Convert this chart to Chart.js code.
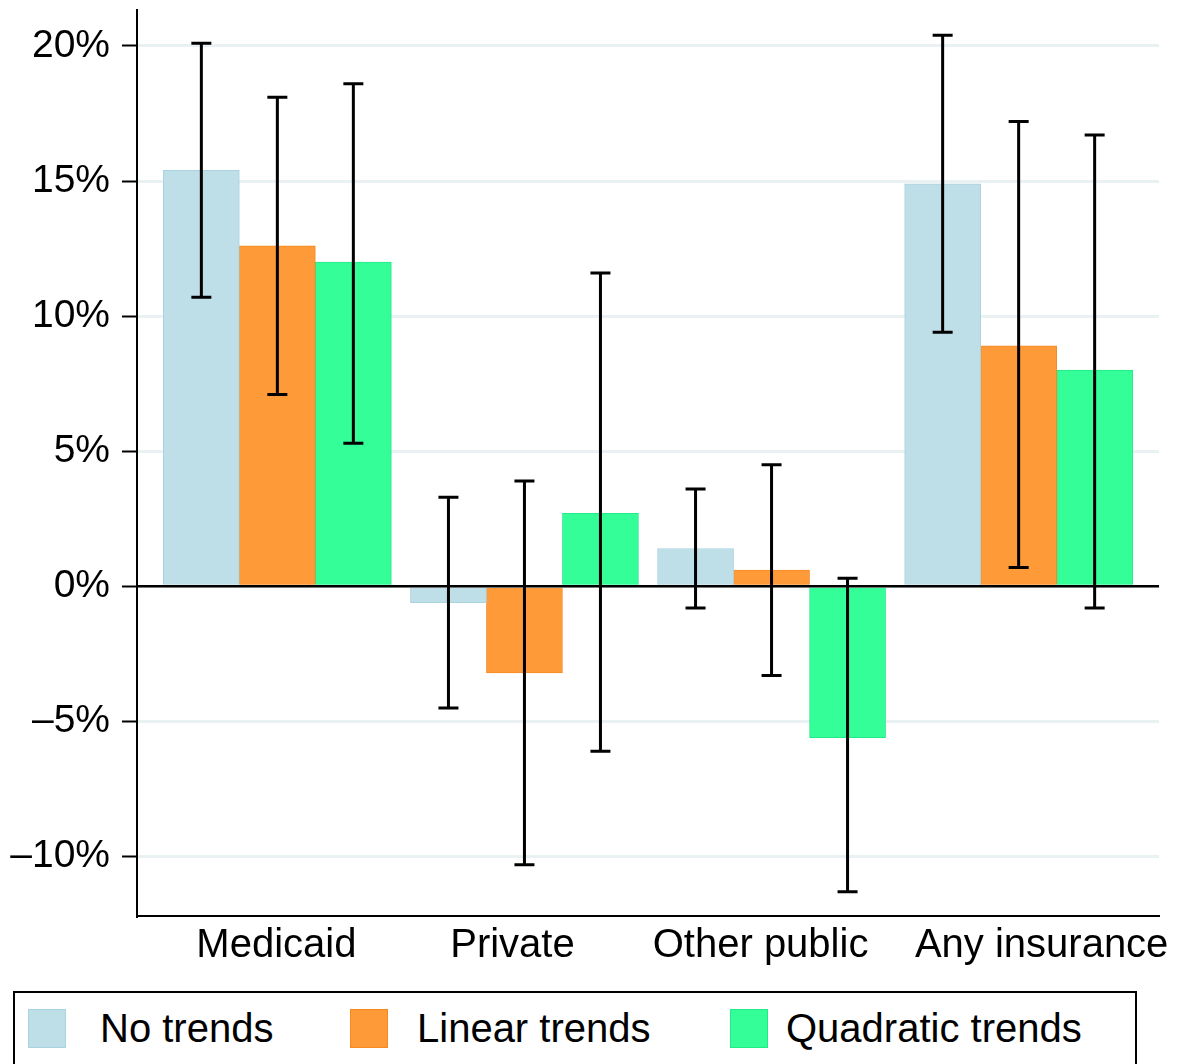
<!DOCTYPE html>
<html>
<head>
<meta charset="utf-8">
<script src="https://cdn.jsdelivr.net/npm/chart.js@4.4.1/dist/chart.umd.min.js"></script>
<style>
  body { margin: 0; background: #fff; font-family: "Liberation Sans", Arial, sans-serif; }
  #wrap { position: relative; width: 1177px; height: 1064px; overflow: hidden; }
  #chart { position: absolute; left: 0; top: 0; }
  #legend {
    position: absolute; left: 13px; top: 991px; width: 1124px; height: 90px;
    border: 2px solid #000; box-sizing: border-box;
  }
  .swatch { position: absolute; top: 16px; width: 38px; height: 39px; box-sizing: border-box; border: 1px solid; }
  .label { position: absolute; top: 12px; font-size: 40px; line-height: 46px; color: #000; white-space: nowrap; }
</style>
</head>
<body>
<div id="wrap">
  <canvas id="chart" width="1177" height="985"></canvas>
  <div id="legend"></div>
</div>
<script>
const categories = ["Medicaid", "Private", "Other public", "Any insurance"];
const seriesNames = ["No trends", "Linear trends", "Quadratic trends"];

const noTrends = [15.4, -0.6, 1.4, 14.9];
const noTrendsLow = [10.7, -4.5, -0.8, 9.4];
const noTrendsHigh = [20.1, 3.3, 3.6, 20.4];

const linearTrends = [12.6, -3.2, 0.6, 8.9];
const linearLow = [7.1, -10.3, -3.3, 0.7];
const linearHigh = [18.1, 3.9, 4.5, 17.2];

const quadTrends = [12.0, 2.7, -5.6, 8.0];
const quadLow = [5.3, -6.1, -11.3, -0.8];
const quadHigh = [18.6, 11.6, 0.3, 16.7];

const yTicks = [-10, -5, 0, 5, 10, 15, 20];

const fills = ["#bfdfe8", "#fe9a38", "#33fe98"];
const borders = ["#a8d3df", "#f58a22", "#22ea88"];

const values = [noTrends, linearTrends, quadTrends];
const lows = [noTrendsLow, linearLow, quadLow];
const highs = [noTrendsHigh, linearHigh, quadHigh];

// x labels are not quite centred under their groups in the original
const labelShiftPx = [-1, -12, -11, 23];
const groupSpacingPx = 247.3;

// legend, positions inside the box
const swatchX = [13, 335, 715];
const labelX = [85, 402, 771];
const legend = document.getElementById("legend");
seriesNames.forEach((name, i) => {
  const sw = document.createElement("div");
  sw.className = "swatch";
  sw.style.left = swatchX[i] + "px";
  sw.style.background = fills[i];
  sw.style.borderColor = borders[i];
  legend.appendChild(sw);
  const lb = document.createElement("div");
  lb.className = "label";
  lb.style.left = labelX[i] + "px";
  lb.textContent = name;
  legend.appendChild(lb);
});

const zeroAndErrors = {
  id: "zeroAndErrors",
  afterDatasetsDraw(chart) {
    const { ctx, chartArea, scales } = chart;
    const y = scales.y;
    ctx.save();
    // zero line over the bars
    const y0 = y.getPixelForValue(0);
    ctx.strokeStyle = "#000";
    ctx.lineWidth = 2.5;
    ctx.beginPath();
    ctx.moveTo(chartArea.left, y0);
    ctx.lineTo(chartArea.right, y0);
    ctx.stroke();
    // error bars
    ctx.lineWidth = 3;
    chart.data.datasets.forEach((ds, di) => {
      const meta = chart.getDatasetMeta(di);
      meta.data.forEach((bar, i) => {
        const yl = y.getPixelForValue(lows[di][i]);
        const yh = y.getPixelForValue(highs[di][i]);
        ctx.beginPath();
        ctx.moveTo(bar.x, yl);
        ctx.lineTo(bar.x, yh);
        ctx.moveTo(bar.x - 10, yl);
        ctx.lineTo(bar.x + 10, yl);
        ctx.moveTo(bar.x - 10, yh);
        ctx.lineTo(bar.x + 10, yh);
        ctx.stroke();
      });
    });
    ctx.restore();
  },
};

new Chart(document.getElementById("chart"), {
  type: "bar",
  data: {
    datasets: seriesNames.map((name, i) => ({
      label: name,
      data: values[i].map((v, j) => ({ x: j, y: v })),
      backgroundColor: fills[i],
      borderColor: borders[i],
      borderWidth: 1,
      barThickness: 76,
    })),
  },
  options: {
    responsive: false,
    animation: false,
    devicePixelRatio: 1,
    layout: { padding: { top: 10, right: 18, left: 0, bottom: 0 } },
    plugins: { legend: { display: false }, tooltip: { enabled: false } },
    scales: {
      x: {
        type: "linear",
        offset: false,
        min: -0.568,
        max: 3.568,
        afterBuildTicks: (s) => {
          s.ticks = categories.map((c, i) => ({ value: i + labelShiftPx[i] / groupSpacingPx }));
        },
        afterFit: (s) => { s.height = 69; s.paddingLeft = 0; s.paddingRight = 0; },
        ticks: {
          color: "#000",
          font: { family: "Liberation Sans", size: 40 },
          padding: 6,
          maxRotation: 0,
          autoSkip: false,
          callback: (v, i) => categories[i],
        },
        grid: { drawOnChartArea: false, drawTicks: false },
        border: { display: true, color: "#000", width: 2 },
      },
      y: {
        min: -12.2,
        max: 21.33,
        afterBuildTicks: (s) => { s.ticks = yTicks.map((v) => ({ value: v })); },
        afterFit: (s) => { s.width = 137; s.paddingTop = 0; s.paddingBottom = 0; },
        ticks: {
          color: "#000",
          font: { family: "Liberation Sans", size: 39 },
          padding: 12,
          callback: (v) => (v < 0 ? "\u2013" + Math.abs(v) : v) + "%",
        },
        grid: {
          color: "#e9f1f3",
          lineWidth: 3,
          tickLength: 15,
          tickColor: "#000",
          tickWidth: 2,
        },
        border: { display: true, color: "#000", width: 2 },
      },
    },
  },
  plugins: [zeroAndErrors],
});
</script>
</body>
</html>
